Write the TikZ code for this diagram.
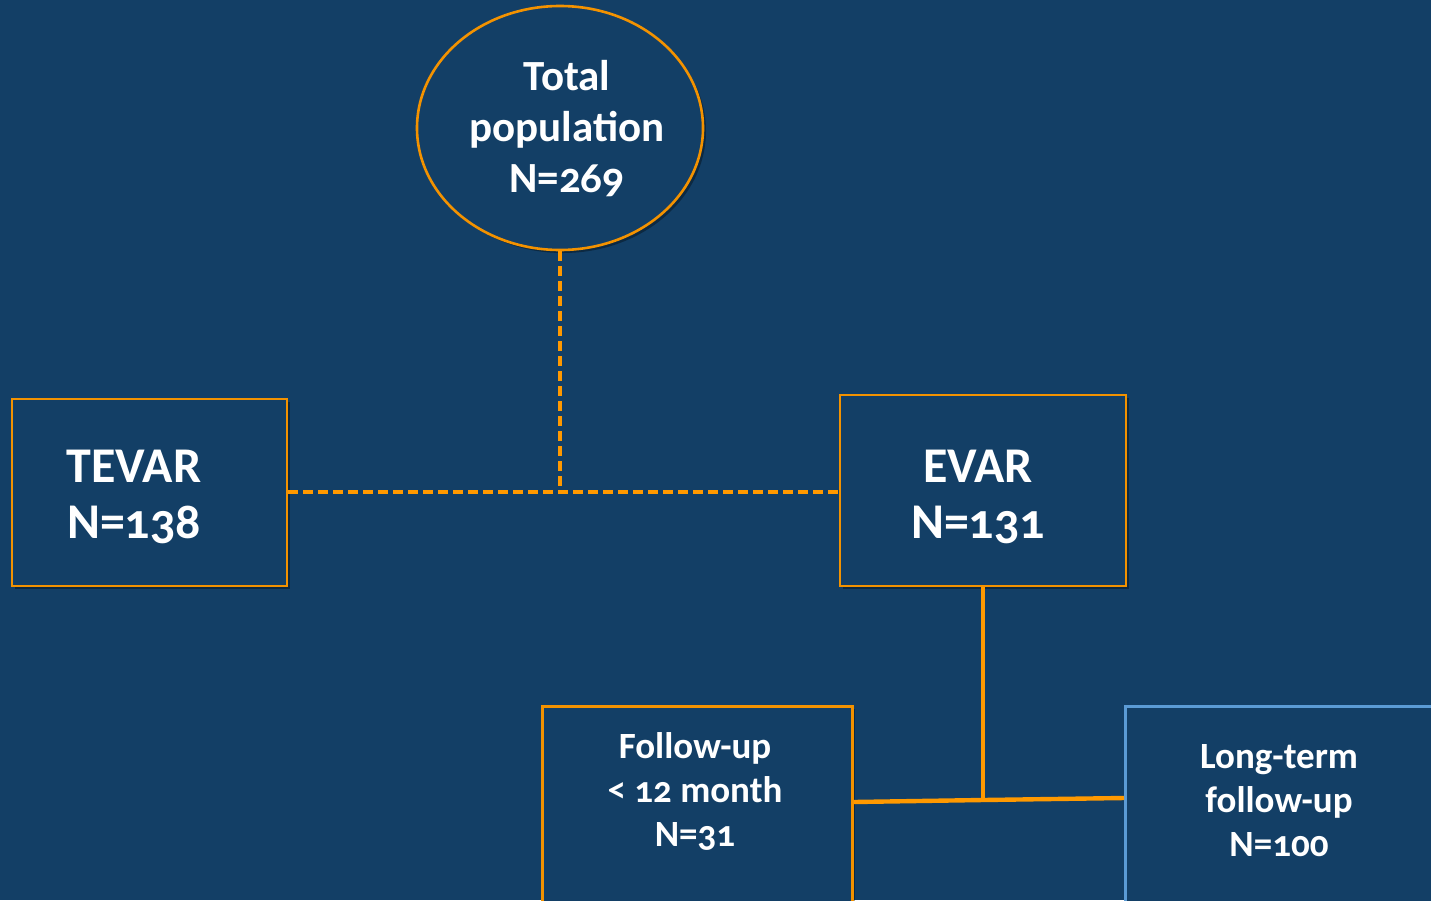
\documentclass[tikz,border=0pt]{standalone}
\usepackage{fontspec}
\setmainfont{Carlito}[Numbers=OldStyle]
\usetikzlibrary{shadows,shapes.geometric}
\definecolor{bgblue}{RGB}{19,63,102}
\definecolor{boxorange}{RGB}{243,146,0}
\definecolor{lineorange}{RGB}{255,153,0}
\definecolor{boxblue}{RGB}{91,155,213}
\tikzset{
  softshadow/.style={drop shadow={shadow xshift=3pt,shadow yshift=-3pt,opacity=0.35,fill=black}},
  obox/.style={draw=boxorange,line width=2.6pt,fill=bgblue,softshadow},
  bbox/.style={draw=boxblue,line width=2.6pt,fill=bgblue,softshadow},
  txt/.style={text=white,align=center,font=\bfseries,inner sep=0pt},
  dashconn/.style={draw=lineorange,line width=3.8pt,dash pattern=on 10pt off 5pt},
  solidconn/.style={draw=lineorange,line width=4.4pt}
}
\begin{document}
\begin{tikzpicture}[x=1pt,y=-1pt]
\fill[bgblue] (0,0) rectangle (1431,900);
\useasboundingbox (0,0) rectangle (1431,900);
% shapes
\node[obox,ellipse,minimum width=286pt,minimum height=244pt,inner sep=0pt] (tot) at (560,128) {};
\node[obox,minimum width=275pt,minimum height=187pt,inner sep=0pt] (tevar) at (149.5,492.5) {};
\node[obox,minimum width=286pt,minimum height=191pt,inner sep=0pt] (evar) at (983,490.5) {};
\node[obox,minimum width=310pt,minimum height=200pt,inner sep=0pt,anchor=north west] (fu) at (541,705) {};
\node[bbox,minimum width=320pt,minimum height=200pt,inner sep=0pt,anchor=north west] (lt) at (1124,705) {};
% texts
\node[txt,font=\bfseries\fontsize{43}{51}\selectfont] (tottxt) at (567,129) {Total\\population\\N=269};
\node[txt,font=\bfseries\fontsize{50}{56}\selectfont] (tevartxt) at (134,497) {TEVAR\\N=138};
\node[txt,font=\bfseries\fontsize{50}{56}\selectfont] (evartxt) at (978,497) {EVAR\\N=131};
\node[txt,font=\bfseries\fontsize{37}{44}\selectfont] (futxt) at (695,791) {Follow-up\\< 12 month\\N=31};
\node[txt,font=\bfseries\fontsize{37}{44}\selectfont] (lttxt) at (1279,801) {Long-term\\follow-up\\N=100};
% connectors
\coordinate (j1) at (560,492);
\coordinate (j2) at (983,800);
\draw[dashconn] (tot.south) -- (j1);
\draw[dashconn] (tevar.east |- j1) -- (evar.west |- j1);
\draw[solidconn] (evar.south) -- (j2);
\draw[solidconn] (fu.east |- 0,802) -- (j2) -- (lt.west |- 0,798);
\end{tikzpicture}
\end{document}
